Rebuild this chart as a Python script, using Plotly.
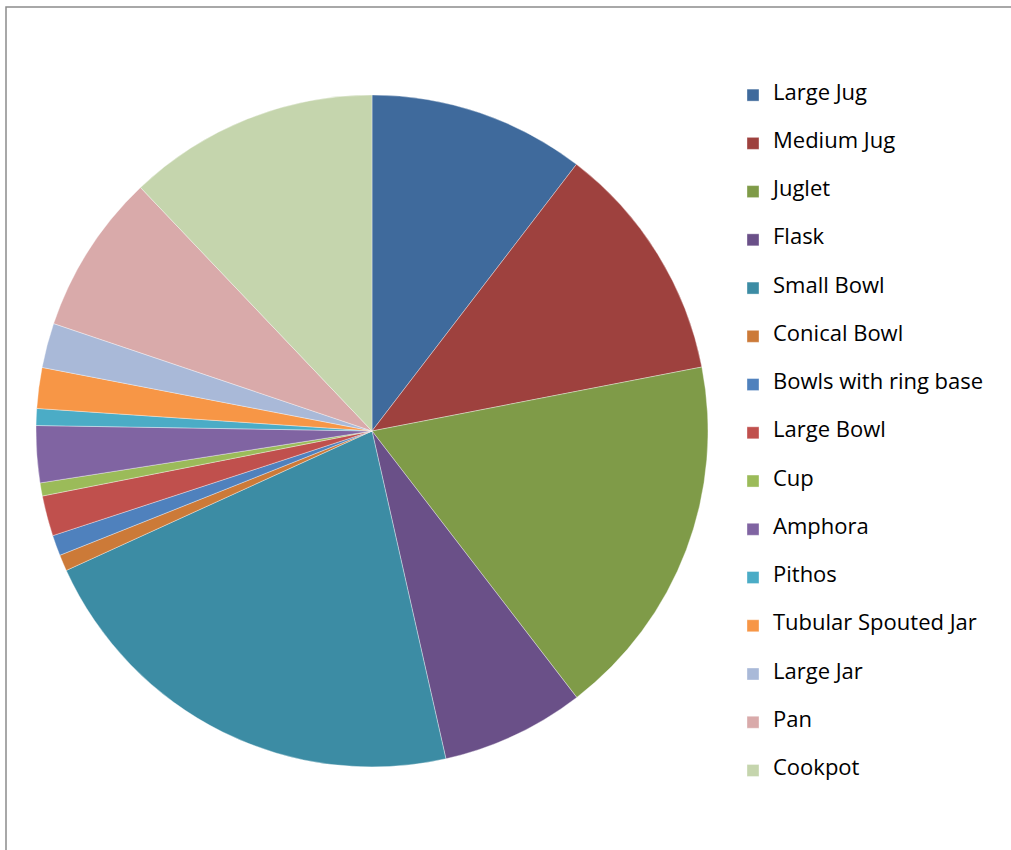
import plotly.graph_objects as go

categories = ["Large Jug", "Medium Jug", "Juglet", "Flask", "Small Bowl", "Conical Bowl",
              "Bowls with ring base", "Large Bowl", "Cup", "Amphora", "Pithos",
              "Tubular Spouted Jar", "Large Jar", "Pan", "Cookpot"]
# share of the whole, in percent
values = [10.41, 11.54, 17.62, 6.90, 21.72, 0.78, 0.99, 1.94, 0.63, 2.73, 0.81, 1.96, 2.15, 7.72, 12.10]
colors = ["#3F6A9C", "#9E413E", "#7F9B48", "#6A5088", "#3C8CA4", "#CC7A38",
          "#4F81BD", "#C0504D", "#9BBB59", "#8064A2", "#4BACC6", "#F79646",
          "#A9B9D8", "#D9AAAA", "#C5D5AD"]

W, H = 1011, 850
labels = ["\u00a0<br><span style='font-size:22px'>%s</span><br>\u00a0" % c for c in categories]

fig = go.Figure(go.Pie(
    labels=labels, values=values, sort=False, direction="clockwise", rotation=0,
    marker=dict(colors=colors, line=dict(color="rgba(255,255,255,0.6)", width=0.6)),
    textinfo="none", hoverinfo="skip",
    domain=dict(x=[(372 - 336) / W, (372 + 336) / W], y=[1 - 767 / H, 1 - 95 / H]),
))

fig.update_layout(
    width=W, height=H, margin=dict(l=0, r=0, t=0, b=0),
    paper_bgcolor="white", plot_bgcolor="white",
    font=dict(family="'Open Sans', Lato, sans-serif", color="black"),
    legend=dict(x=733 / W, y=1 - 66 / H, xanchor="left", yanchor="top",
                font=dict(size=11.6, color="black"), bgcolor="rgba(0,0,0,0)",
                traceorder="normal"),
    shapes=[dict(type="rect", xref="paper", yref="paper",
                 x0=6 / W, x1=1.02, y0=-0.02, y1=1 - 7 / H,
                 line=dict(color="#8C8C8C", width=1.5), fillcolor="rgba(0,0,0,0)")],
)

fig.write_html("out.html", config={"displayModeBar": False},
               post_script="document.body.style.margin='0';")
